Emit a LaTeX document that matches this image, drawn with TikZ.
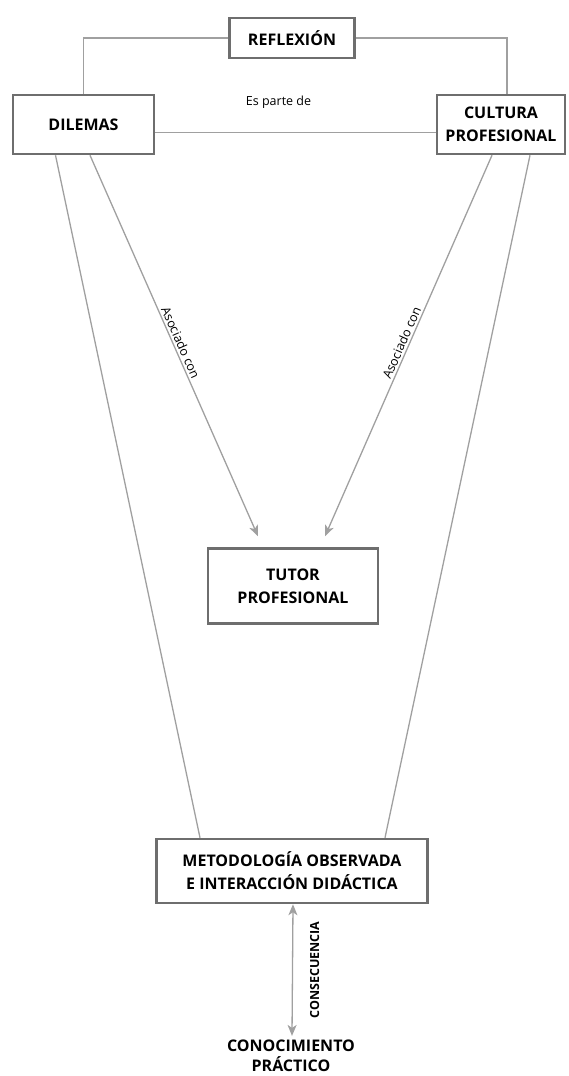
\documentclass[tikz,border=0pt]{standalone}
\usepackage{fontspec}
\setmainfont{Open Sans}
\usetikzlibrary{arrows.meta,calc}
\definecolor{boxgray}{HTML}{6E6E6E}
\definecolor{linegray}{HTML}{A0A0A0}
\begin{document}
\begin{tikzpicture}[x=1pt,y=-1pt,
 box/.style={draw=boxgray,line width=2.5pt,fill=white,align=center,font=\fontsize{16}{23}\selectfont\bfseries,inner sep=0pt},
 conn/.style={draw=linegray,line width=1.3pt},
 arr/.style={conn,-{Stealth[length=11pt,width=9pt,inset=3pt]}},
 dbl/.style={conn,{Stealth[length=11pt,width=9pt,inset=3pt]}-{Stealth[length=11pt,width=9pt,inset=3pt]}},
 lbl/.style={font=\fontsize{12.5}{15}\selectfont,inner sep=2pt},
 plain/.style={align=center,font=\fontsize{16}{20}\selectfont\bfseries,inner sep=0pt}]
\useasboundingbox (0,0) rectangle (568,1076);
\node[box,minimum width=125pt,minimum height=40pt] (ref) at (292,38) {REFLEXIÓN};
\node[box,minimum width=141pt,minimum height=59pt] (dil) at (83.5,124.5) {DILEMAS};
\node[box,minimum width=128pt,minimum height=59pt] (cul) at (501,124.5) {CULTURA\\PROFESIONAL};
\node[box,minimum width=170pt,minimum height=75pt] (tut) at (293,586) {TUTOR\\PROFESIONAL};
\node[box,minimum width=271pt,minimum height=64pt] (met) at (292,871) {METODOLOGÍA OBSERVADA\\E INTERACCIÓN DIDÁCTICA};
\node[plain] (con) at (291,1056) {CONOCIMIENTO\\PRÁCTICO};

\draw[conn] (ref.west) -| (dil.north);
\draw[conn] (ref.east) -| ($(cul.north)+(6,0)$);
\draw[conn] ($(dil.east)+(0,8)$) -- node[lbl,above=21pt,xshift=-17pt] (es) {Es parte de} ($(cul.west)+(0,8)$);

\draw[arr] ($(dil.south)+(6.5,0)$) -- node[lbl,sloped,above,pos=0.5] (a1) {Asociado con} ($(tut.north)+(-35,-11)$);
\draw[arr] ($(cul.south)+(-9,0)$) -- node[lbl,sloped,above,pos=0.5] (a2) {Asociado con} ($(tut.north)+(32,-11)$);

\draw[conn] ($(dil.south)+(-28,0)$) -- ($(met.north)+(-92,0)$);
\draw[conn] ($(cul.south)+(29,0)$) -- ($(met.north)+(93,0)$);

\draw[dbl] ($(met.south)+(1,0)$) -- node[rotate=90,anchor=north,yshift=-17pt,font=\fontsize{12.5}{15}\selectfont\bfseries,inner sep=0pt] (cs) {CONSECUENCIA} ($(con.north)+(1,-4)$);
\end{tikzpicture}
\end{document}
